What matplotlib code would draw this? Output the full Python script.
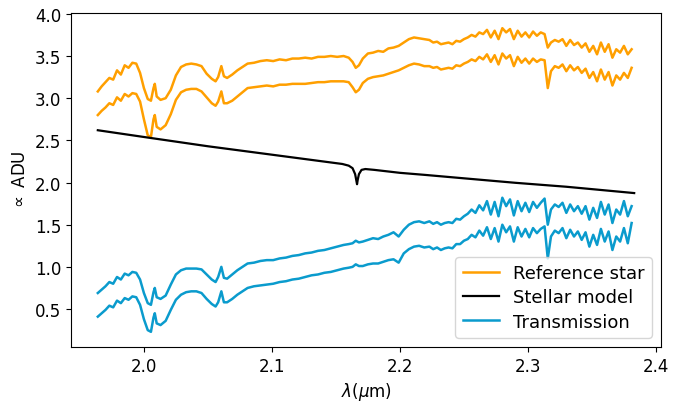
import matplotlib
matplotlib.use("Agg")
import matplotlib.pyplot as plt

wl = [1.964, 1.967, 1.970, 1.973, 1.976, 1.979, 1.982, 1.985, 1.988, 1.991,
      1.994, 1.997, 2.000, 2.003, 2.0055, 2.0075, 2.0085, 2.010, 2.013, 2.017,
      2.021, 2.025, 2.029, 2.033, 2.037, 2.041, 2.045, 2.049, 2.053, 2.056,
      2.058, 2.0605, 2.0625, 2.065, 2.069, 2.073, 2.077, 2.081, 2.086, 2.091,
      2.096, 2.101, 2.106, 2.111, 2.116, 2.121, 2.126, 2.131, 2.136, 2.141,
      2.146, 2.151, 2.156, 2.160, 2.163, 2.1655, 2.168, 2.171, 2.175, 2.179,
      2.183, 2.187, 2.191, 2.195, 2.199, 2.203, 2.207, 2.211, 2.215, 2.219,
      2.223, 2.226, 2.229, 2.232, 2.235, 2.238, 2.241, 2.244, 2.247, 2.250,
      2.253, 2.256, 2.259, 2.262, 2.265, 2.268, 2.271, 2.274, 2.277, 2.280,
      2.283, 2.286, 2.289, 2.292, 2.295, 2.298, 2.301, 2.304, 2.307, 2.310,
      2.313, 2.3155, 2.318, 2.321, 2.324, 2.327, 2.330, 2.333, 2.336, 2.339,
      2.342, 2.345, 2.348, 2.351, 2.354, 2.357, 2.360, 2.363, 2.366, 2.369,
      2.372, 2.375, 2.378, 2.381]

ref_upper = [3.08, 3.14, 3.19, 3.24, 3.22, 3.33, 3.28, 3.39, 3.36, 3.42,
             3.41, 3.30, 3.12, 2.99, 2.97, 3.12, 3.17, 3.02, 2.98, 3.00,
             3.10, 3.27, 3.37, 3.40, 3.41, 3.40, 3.38, 3.29, 3.23, 3.20,
             3.25, 3.38, 3.26, 3.24, 3.28, 3.33, 3.37, 3.41, 3.42, 3.44,
             3.45, 3.44, 3.46, 3.45, 3.47, 3.47, 3.48, 3.47, 3.49, 3.49,
             3.50, 3.49, 3.50, 3.48, 3.43, 3.36, 3.39, 3.47, 3.53, 3.54,
             3.56, 3.55, 3.59, 3.60, 3.62, 3.66, 3.70, 3.72, 3.71, 3.70,
             3.69, 3.66, 3.67, 3.64, 3.65, 3.66, 3.64, 3.68, 3.67, 3.70,
             3.72, 3.75, 3.73, 3.78, 3.76, 3.81, 3.72, 3.80, 3.70, 3.83,
             3.78, 3.82, 3.70, 3.80, 3.73, 3.78, 3.72, 3.79, 3.74, 3.78,
             3.76, 3.60, 3.66, 3.69, 3.67, 3.70, 3.62, 3.69, 3.63, 3.66,
             3.60, 3.65, 3.55, 3.62, 3.52, 3.66, 3.55, 3.64, 3.48, 3.58,
             3.54, 3.62, 3.52, 3.58]

ref_lower = [2.80, 2.85, 2.89, 2.94, 2.92, 3.01, 2.97, 3.05, 3.02, 3.06,
             3.05, 2.96, 2.75, 2.56, 2.54, 2.75, 2.80, 2.66, 2.63, 2.68,
             2.81, 2.98, 3.07, 3.10, 3.11, 3.11, 3.08, 3.01, 2.94, 2.91,
             2.96, 3.08, 2.94, 2.94, 2.97, 3.02, 3.07, 3.12, 3.13, 3.14,
             3.15, 3.14, 3.16, 3.16, 3.17, 3.17, 3.17, 3.18, 3.19, 3.19,
             3.20, 3.20, 3.20, 3.19, 3.13, 3.07, 3.10, 3.18, 3.23, 3.25,
             3.26, 3.27, 3.29, 3.31, 3.33, 3.36, 3.39, 3.41, 3.40, 3.38,
             3.38, 3.36, 3.37, 3.34, 3.35, 3.36, 3.35, 3.39, 3.38, 3.41,
             3.43, 3.46, 3.44, 3.49, 3.46, 3.52, 3.43, 3.51, 3.40, 3.53,
             3.47, 3.51, 3.38, 3.49, 3.42, 3.47, 3.41, 3.47, 3.43, 3.46,
             3.45, 3.12, 3.32, 3.38, 3.36, 3.40, 3.32, 3.39, 3.33, 3.37,
             3.30, 3.35, 3.24, 3.31, 3.20, 3.34, 3.22, 3.31, 3.15, 3.27,
             3.22, 3.30, 3.24, 3.36]

trans_upper = [0.69, 0.73, 0.77, 0.82, 0.80, 0.88, 0.85, 0.92, 0.90, 0.94,
               0.93, 0.85, 0.69, 0.57, 0.55, 0.70, 0.75, 0.64, 0.62, 0.66,
               0.79, 0.91, 0.96, 0.98, 0.98, 0.98, 0.97, 0.91, 0.85, 0.82,
               0.88, 1.00, 0.87, 0.86, 0.91, 0.96, 1.00, 1.04, 1.05, 1.07,
               1.08, 1.08, 1.10, 1.11, 1.13, 1.14, 1.16, 1.17, 1.19, 1.20,
               1.22, 1.24, 1.26, 1.27, 1.28, 1.31, 1.29, 1.30, 1.32, 1.34,
               1.33, 1.36, 1.38, 1.41, 1.36, 1.44, 1.50, 1.53, 1.54, 1.52,
               1.54, 1.51, 1.53, 1.50, 1.52, 1.53, 1.52, 1.57, 1.56, 1.60,
               1.63, 1.68, 1.64, 1.73, 1.67, 1.78, 1.62, 1.77, 1.60, 1.82,
               1.72, 1.80, 1.61, 1.78, 1.66, 1.76, 1.65, 1.77, 1.70, 1.76,
               1.81, 1.50, 1.68, 1.74, 1.71, 1.76, 1.64, 1.74, 1.66, 1.72,
               1.63, 1.72, 1.56, 1.70, 1.58, 1.77, 1.62, 1.74, 1.52, 1.68,
               1.62, 1.78, 1.60, 1.72]

trans_lower = [0.41, 0.45, 0.49, 0.54, 0.52, 0.60, 0.57, 0.63, 0.61, 0.65,
               0.64, 0.55, 0.38, 0.25, 0.23, 0.40, 0.45, 0.33, 0.31, 0.36,
               0.49, 0.61, 0.67, 0.70, 0.71, 0.71, 0.69, 0.62, 0.56, 0.53,
               0.58, 0.71, 0.58, 0.58, 0.62, 0.67, 0.71, 0.75, 0.77, 0.78,
               0.79, 0.80, 0.82, 0.83, 0.85, 0.86, 0.88, 0.90, 0.91, 0.93,
               0.94, 0.96, 0.98, 0.99, 1.00, 1.03, 1.01, 1.01, 1.03, 1.04,
               1.04, 1.06, 1.08, 1.09, 1.05, 1.16, 1.21, 1.24, 1.25, 1.23,
               1.24, 1.21, 1.23, 1.20, 1.22, 1.23, 1.22, 1.27, 1.27, 1.31,
               1.33, 1.38, 1.35, 1.43, 1.37, 1.47, 1.33, 1.46, 1.30, 1.50,
               1.41, 1.48, 1.30, 1.47, 1.36, 1.45, 1.35, 1.46, 1.40, 1.45,
               1.48, 1.10, 1.36, 1.43, 1.40, 1.46, 1.34, 1.44, 1.36, 1.42,
               1.32, 1.41, 1.24, 1.38, 1.26, 1.45, 1.30, 1.42, 1.20, 1.36,
               1.30, 1.46, 1.28, 1.52]

model_wl = [1.964, 2.000, 2.050, 2.100, 2.140, 2.155, 2.160, 2.163, 2.165,
            2.166, 2.1665, 2.167, 2.168, 2.170, 2.173, 2.180, 2.200, 2.220,
            2.250, 2.290, 2.330, 2.383]
model_flux = [2.62, 2.54, 2.43, 2.33, 2.25, 2.22, 2.20, 2.17, 2.10,
              2.02, 1.98, 2.03, 2.10, 2.15, 2.16, 2.15, 2.115, 2.09,
              2.05, 1.997, 1.95, 1.875]

ORANGE = "#ff9f00"
BLUE = "#0a9bcd"
LW = 1.8

fig = plt.figure(figsize=(6.75, 4.06), dpi=100)
ax = fig.add_axes([71 / 675, 1 - 348 / 406, (661 - 71) / 675, (348 - 14) / 406])

ax.plot(wl, ref_upper, color=ORANGE, lw=LW, label="Reference star")
ax.plot(wl, ref_lower, color=ORANGE, lw=LW)
ax.plot(model_wl, model_flux, color="black", lw=1.6, label="Stellar model")
ax.plot(wl, trans_upper, color=BLUE, lw=LW, label="Transmission")
ax.plot(wl, trans_lower, color=BLUE, lw=LW)

ax.set_xlabel(r"$\lambda(\mu$m)", fontsize=12)
ax.set_ylabel(r"$\propto$ ADU", fontsize=12)
ax.tick_params(labelsize=12)
ax.set_yticks([0.5, 1.0, 1.5, 2.0, 2.5, 3.0, 3.5, 4.0])
ax.set_xticks([2.0, 2.1, 2.2, 2.3, 2.4])
ax.legend(loc="lower right", fontsize=13, labelspacing=0.35,
          handlelength=2.0)

fig.savefig("out.png", dpi=100)
